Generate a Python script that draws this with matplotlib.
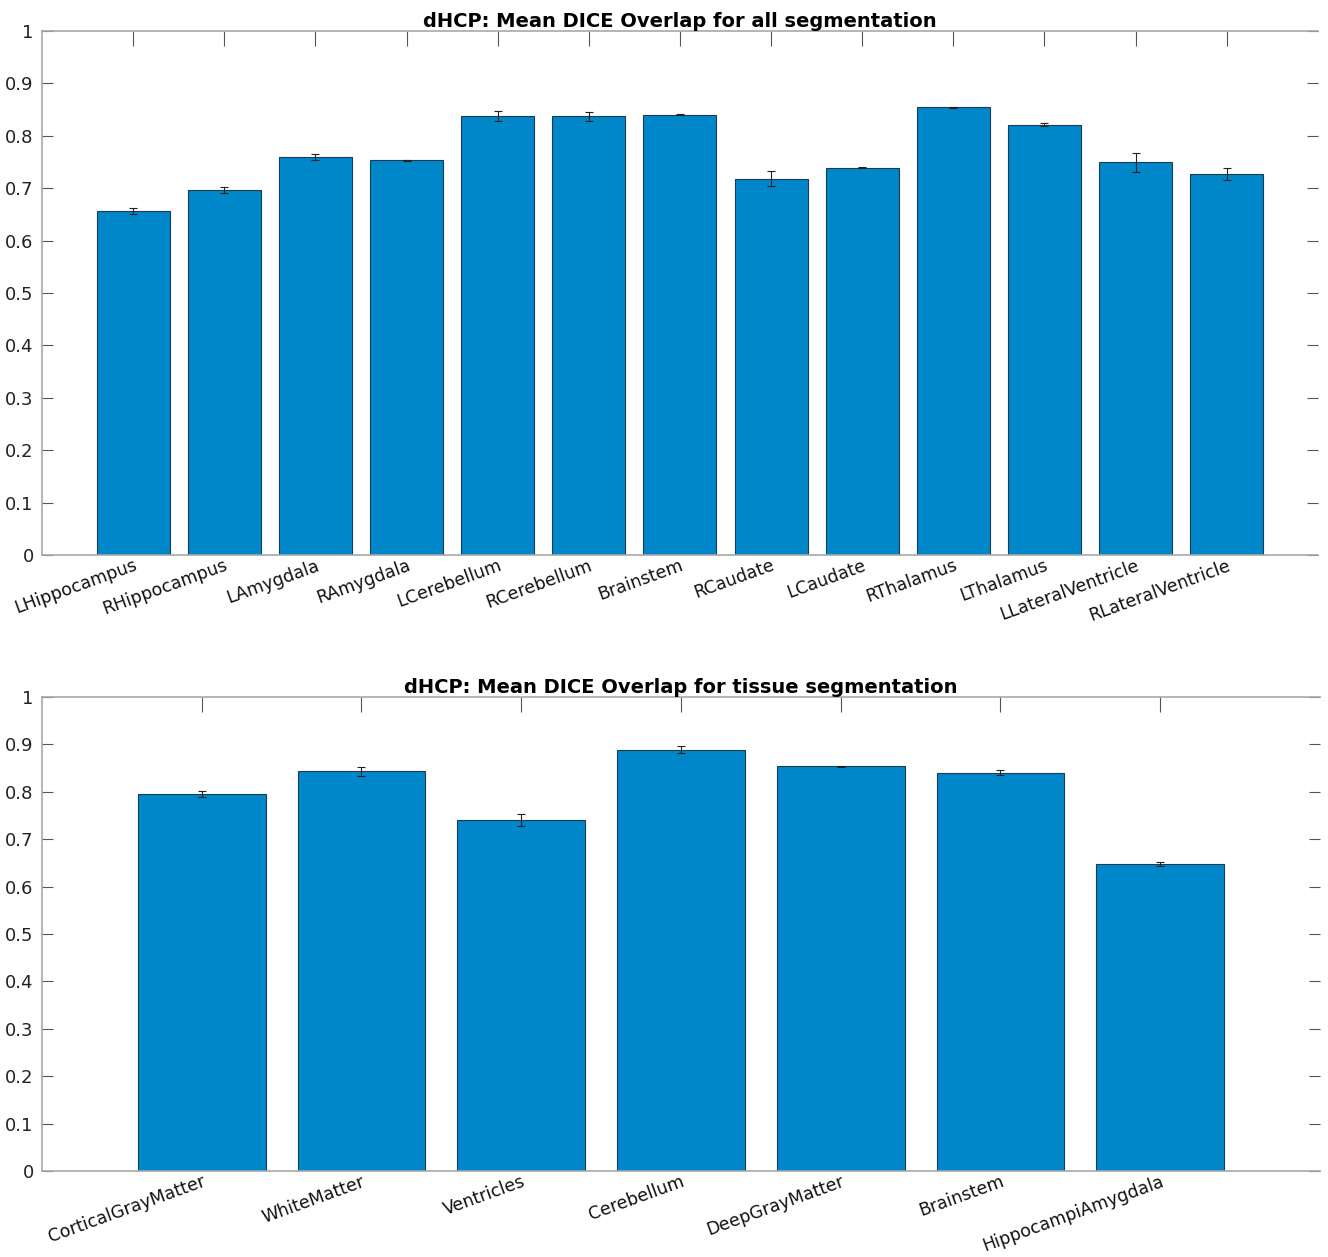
import matplotlib
matplotlib.use("Agg")
import matplotlib.pyplot as plt
import numpy as np

# Per-structure mean Dice overlap (all labels)
all_labels = ["LHippocampus", "RHippocampus", "LAmygdala", "RAmygdala", "LCerebellum",
              "RCerebellum", "Brainstem", "RCaudate", "LCaudate", "RThalamus",
              "LThalamus", "LLateralVentricle", "RLateralVentricle"]
all_mean = [0.656, 0.697, 0.760, 0.753, 0.838, 0.837, 0.840, 0.718, 0.739, 0.854,
            0.821, 0.749, 0.727]
all_err = [0.006, 0.006, 0.006, 0.001, 0.009, 0.008, 0.001, 0.014, 0.001, 0.001,
           0.003, 0.018, 0.011]

# Tissue classes mean Dice overlap
tissue_labels = ["CorticalGrayMatter", "WhiteMatter", "Ventricles", "Cerebellum",
                 "DeepGrayMatter", "Brainstem", "HippocampiAmygdala"]
tissue_mean = [0.795, 0.843, 0.741, 0.889, 0.854, 0.840, 0.647]
tissue_err = [0.006, 0.009, 0.013, 0.008, 0.001, 0.005, 0.004]

yticks = [0, 0.1, 0.2, 0.3, 0.4, 0.5, 0.6, 0.7, 0.8, 0.9, 1]
ytick_labels = ["0", "0.1", "0.2", "0.3", "0.4", "0.5", "0.6", "0.7", "0.8", "0.9", "1"]

BAR = "#0087C9"
AXC = "#a8a8a8"

plt.rcParams["font.family"] = ["DejaVu Sans"]

fig = plt.figure(figsize=(13.28, 12.57), dpi=100)
ax1 = fig.add_axes([0.0316, 0.5585, 0.9608, 0.4169])
ax2 = fig.add_axes([0.0316, 0.0684, 0.9623, 0.3771])


def draw(ax, labels, means, errs, title):
    x = np.arange(1, len(labels) + 1)
    ax.bar(x, means, width=0.8, color=BAR, edgecolor="#1a3a55", linewidth=0.8, zorder=2)
    ax.errorbar(x, means, yerr=errs, fmt="none", ecolor="#222222", elinewidth=0.8,
                capsize=3, capthick=0.8, zorder=3)
    ax.set_xlim(0, len(labels) + 1)
    ax.set_ylim(0, 1)
    ax.set_yticks(yticks)
    ax.set_yticklabels(ytick_labels, fontsize=13, color="#222222")
    ax.set_xticks(x)
    ax.set_xticklabels(labels, fontsize=12.5, rotation=20, ha="right", va="top",
                       rotation_mode="anchor", color="#111111")
    ax.tick_params(axis="both", direction="in", width=0.8, color="#555555",
                   top=True, right=True)
    ax.tick_params(axis="y", length=8, pad=6)
    ax.tick_params(axis="x", length=11, pad=1)
    for side in ["left", "top", "bottom"]:
        ax.spines[side].set_color(AXC)
        ax.spines[side].set_linewidth(1.2)
    ax.spines["right"].set_visible(False)
    ax.set_title(title, fontsize=14, fontweight="bold", pad=3)


draw(ax1, all_labels, all_mean, all_err, "dHCP: Mean DICE Overlap for all segmentation")
draw(ax2, tissue_labels, tissue_mean, tissue_err, "dHCP: Mean DICE Overlap for tissue segmentation")

fig.savefig("out.png", dpi=100)
